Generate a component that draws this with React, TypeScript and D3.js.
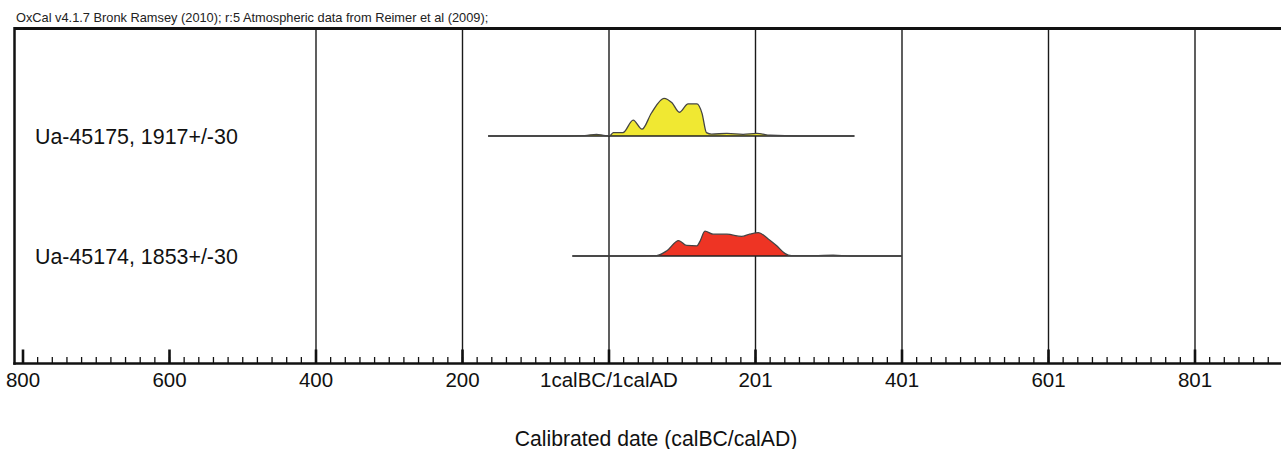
import React from 'react';
import * as d3 from 'd3';

// years: negative = calBC, 0 = 1calBC/1calAD
const tickYears = [-800, -600, -400, -200, 0, 200, 400, 600, 800];
const tickLabels = ['800', '600', '400', '200', '1calBC/1calAD', '201', '401', '601', '801'];
const gridYears = [-400, -200, 0, 200, 400, 600, 800];

const sampleNames = ['Ua-45175, 1917+/-30', 'Ua-45174, 1853+/-30'];
const sampleColors = ['#f0e832', '#ee3424'];
const sampleRanges = [[-165, 335], [-50, 400]];

// relative probability
const yellowYears = [-165, -60, -33, -17, -5, 1, 6, 19, 33, 45, 58, 75, 86, 96, 108, 120, 127, 133, 140, 161, 183, 202, 220, 260, 335];
const yellowProb = [0, 0, 0.01, 0.045, 0.01, 0.01, 0.09, 0.09, 0.42, 0.18, 0.61, 1.0, 0.88, 0.63, 0.85, 0.85, 0.6, 0.09, 0.05, 0.07, 0.045, 0.07, 0.02, 0, 0];

const redYears = [-50, 40, 65, 79, 95, 106, 120, 124, 131, 142, 161, 181, 192, 204, 217, 229, 240, 249, 280, 306, 330, 400];
const redProb = [0, 0, 0.01, 0.14, 0.41, 0.28, 0.27, 0.38, 0.66, 0.58, 0.58, 0.52, 0.58, 0.62, 0.46, 0.27, 0.07, 0.01, 0.01, 0.02, 0, 0];

const sampleData = [
  yellowYears.map((yr, i) => ({ yr, p: yellowProb[i] })),
  redYears.map((yr, i) => ({ yr, p: redProb[i] })),
];

const App = () => {
  const width = 1281;
  const height = 449;
  const frameLeft = 14.5;
  const frameTop = 28.5;
  const axisY = 363.5;
  const baselines = [136, 256];

  const x = d3.scaleLinear().domain([-800, 800]).range([23, 1195]);
  const yHeight = d3.scaleLinear().domain([0, 1]).range([0, 37.7]);

  // minor ticks every 20 years
  const minorTicks = d3.range(-800, 920, 20).filter(v => x(v) > frameLeft + 2 && x(v) < width);

  const font = 'Arial, "Liberation Sans", Helvetica, sans-serif';

  return (
    <svg width={width} height={height} style={{ position: 'absolute', left: 0, top: 0, background: '#fff' }}
      fontFamily={font}>
      <rect width={width} height={height} fill="#fff" />
      <text x={16} y={21.5} fontSize={12.8} fill="#222">
        OxCal v4.1.7 Bronk Ramsey (2010); r:5 Atmospheric data from Reimer et al (2009);
      </text>

      {/* gridlines */}
      {gridYears.map(v => (
        <line key={v} x1={x(v)} x2={x(v)} y1={frameTop} y2={axisY} stroke="#1a1a1a" strokeWidth={1.4} />
      ))}

      {/* distributions */}
      {sampleData.map((data, i) => {
        const base = baselines[i];
        const area = d3.area<{ yr: number; p: number }>()
          .x(d => x(d.yr))
          .y0(base)
          .y1(d => base - yHeight(d.p))
          .curve(d3.curveMonotoneX);
        const line = d3.line<{ yr: number; p: number }>()
          .x(d => x(d.yr))
          .y(d => base - yHeight(d.p))
          .curve(d3.curveMonotoneX);
        return (
          <g key={i}>
            <path d={area(data) || ''} fill={sampleColors[i]} />
            <line x1={x(sampleRanges[i][0])} x2={x(sampleRanges[i][1])} y1={base} y2={base} stroke="#222" strokeWidth={1.3} />
            <path d={line(data) || ''} fill="none" stroke="#444" strokeWidth={1.3} />
            <text x={35} y={base + 8} fontSize={21.4} fill="#111">{sampleNames[i]}</text>
          </g>
        );
      })}

      {/* frame */}
      <line x1={frameLeft} x2={width} y1={frameTop} y2={frameTop} stroke="#111" strokeWidth={3} />
      <line x1={frameLeft} x2={frameLeft} y1={frameTop - 1.5} y2={axisY + 1.2} stroke="#111" strokeWidth={2.5} />

      {/* axis */}
      {minorTicks.map(v => (
        <line key={v} x1={x(v)} x2={x(v)} y1={axisY - 6.5} y2={axisY} stroke="#111" strokeWidth={1.3} />
      ))}
      {tickYears.map(v => (
        <line key={'M' + v} x1={x(v)} x2={x(v)} y1={axisY - 14} y2={axisY} stroke="#111" strokeWidth={2.6} />
      ))}
      <line x1={frameLeft - 1.2} x2={width} y1={axisY} y2={axisY} stroke="#111" strokeWidth={2.6} />
      {tickYears.map((v, i) => (
        <text key={'L' + v} x={x(v)} y={387} fontSize={20.5} textAnchor="middle" fill="#111">{tickLabels[i]}</text>
      ))}
      <text x={656} y={446} fontSize={21.2} textAnchor="middle" fill="#111">Calibrated date (calBC/calAD)</text>
    </svg>
  );
};

export default App;
